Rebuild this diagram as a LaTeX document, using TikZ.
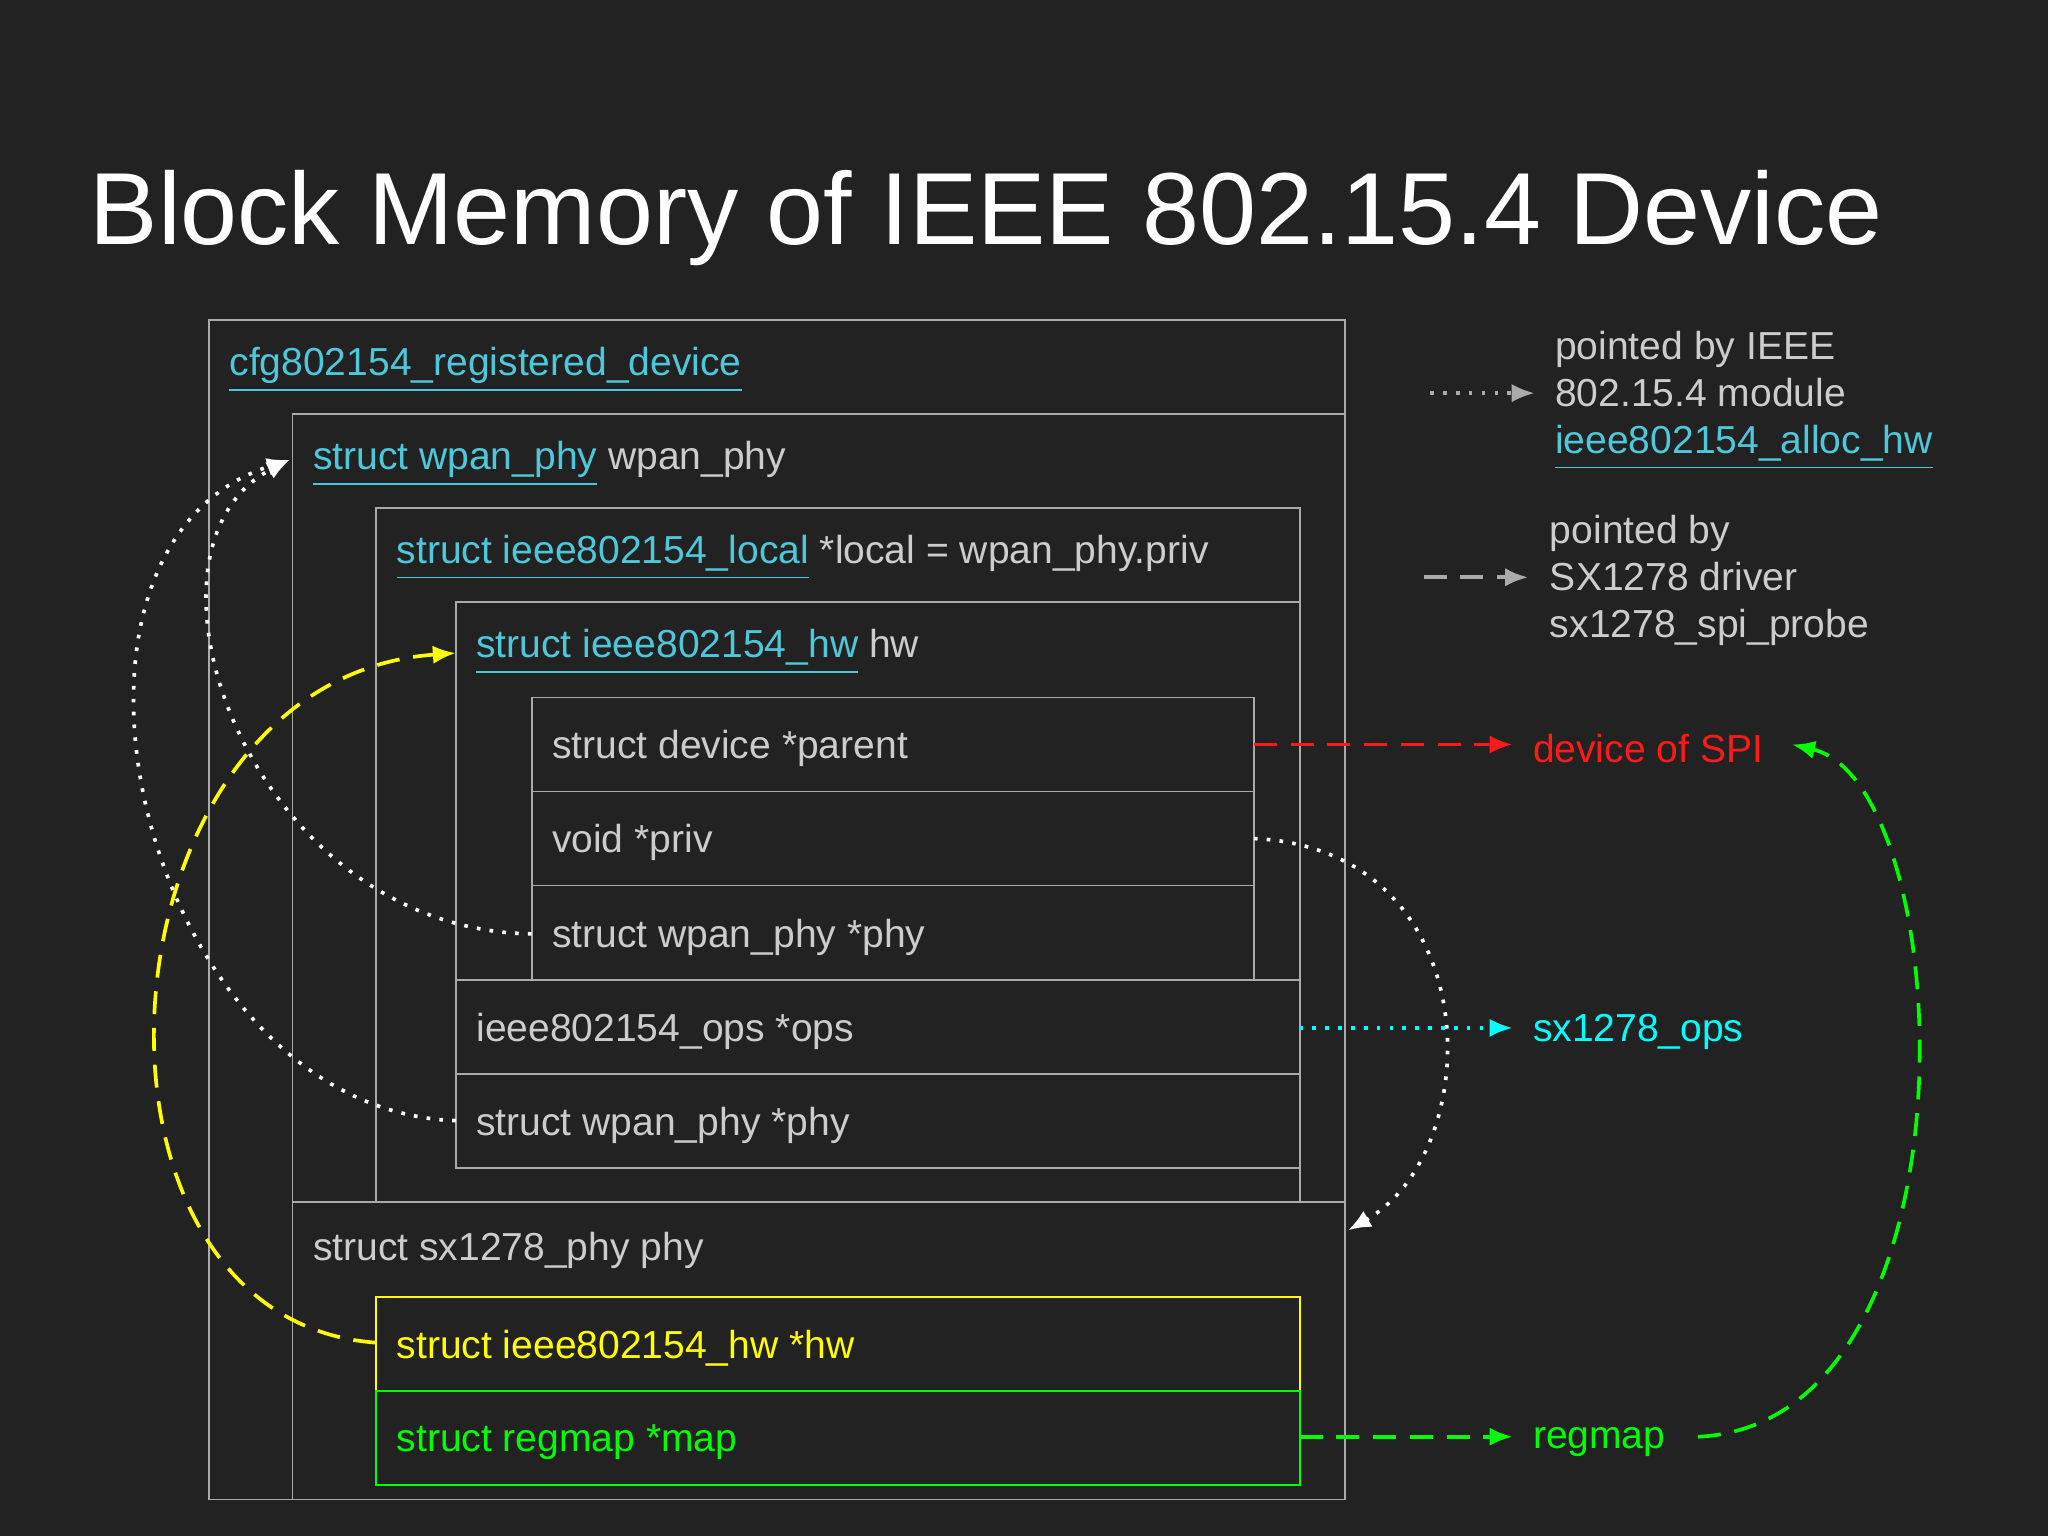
\documentclass[tikz,border=0pt]{standalone}
\usepackage{fontspec}
\setmainfont{Liberation Sans}
\usetikzlibrary{arrows.meta}
\definecolor{bg}{HTML}{222222}
\definecolor{ln}{HTML}{AAAAAA}
\definecolor{tx}{HTML}{CCCCCC}
\definecolor{lk}{HTML}{4DC8DA}
\definecolor{yl}{HTML}{FFFF00}
\definecolor{gr}{HTML}{00FF00}
\definecolor{rd}{HTML}{FF1A1A}
\definecolor{cy}{HTML}{00FFFF}
\newcommand{\lnk}[1]{\textcolor{lk}{\underline{#1}}}
\begin{document}
\begin{tikzpicture}[x=0.01cm,y=-0.01cm,
  box/.style={draw=ln,line width=0.4pt},
  lab/.style={anchor=west,text=tx,font=\fontsize{8.5}{10}\selectfont,inner sep=0pt},
  tip/.style={-{Latex[length=5pt,width=4pt]}},
  dot/.style={white,dotted,line width=0.8pt,tip},
  dsh/.style={dash pattern=on 5pt off 3pt,line width=0.8pt,tip}]
\fill[bg] (0,0) rectangle (1568,1176);
\useasboundingbox (0,0) rectangle (1568,1176);
\node[anchor=west,text=white,font=\fontsize{22.3}{26}\selectfont,inner sep=0pt] (title) at (68,167) {Block Memory of IEEE 802.15.4 Device};
% boxes
\draw[box] (160,245) rectangle (1030,1148);
\draw[box] (224,317) rectangle (1030,1148);
\draw[box] (224,920) -- (1030,920);
\draw[box] (288,389) rectangle (995,920);
\draw[box] (349,461) rectangle (995,894);
\draw[box] (349,750) -- (995,750);
\draw[box] (349,822) -- (995,822);
\draw[box] (407,534) rectangle (960,750);
\draw[box] (407,606) -- (960,606);
\draw[box] (407,678) -- (960,678);
\draw[draw=yl] (288,993) rectangle (995,1065);
\draw[draw=gr] (288,1065) rectangle (995,1137);
% labels
\node[lab] (cfg) at (175,283) {\lnk{cfg802154\_registered\_device}};
\node[lab] (wpan) at (239,355) {\lnk{struct wpan\_phy} wpan\_phy};
\node[lab] (local) at (303,427) {\lnk{struct ieee802154\_local} *local = wpan\_phy.priv};
\node[lab] (hw) at (364,499) {\lnk{struct ieee802154\_hw} hw};
\node[lab] (parent) at (422,573) {struct device *parent};
\node[lab] (priv) at (422,645) {void *priv};
\node[lab] (phy1) at (422,718) {struct wpan\_phy *phy};
\node[lab] (ops) at (364,790) {ieee802154\_ops *ops};
\node[lab] (phy2) at (364,862) {struct wpan\_phy *phy};
\node[lab] (sx) at (239,957) {struct sx1278\_phy phy};
\node[lab,text=yl] (hwp) at (303,1032) {struct ieee802154\_hw *hw};
\node[lab,text=gr] (map) at (303,1104) {struct regmap *map};
% right side labels
\node[lab,text=rd] (spi) at (1173,573) {device of SPI};
\node[lab,text=cy] (sxops) at (1173,790) {sx1278\_ops};
\node[lab,text=gr] (regmap) at (1173,1104) {regmap};
\node[lab,align=left,anchor=north west,font=\fontsize{8.5}{10.2}\selectfont] (leg1) at (1190,253) {pointed by IEEE\\802.15.4 module\\\lnk{ieee802154\_alloc\_hw}};
\node[lab,align=left,anchor=north west,font=\fontsize{8.5}{10.2}\selectfont] (leg2) at (1186,394) {pointed by\\SX1278 driver\\sx1278\_spi\_probe};
% legend arrows
\coordinate (l1a) at (1095,301); \coordinate (l1b) at (1175,301);
\coordinate (l2a) at (1090,442); \coordinate (l2b) at (1170,442);
\draw[ln,dotted,line width=0.8pt,tip] (l1a) -- (l1b);
\draw[ln,dsh] (l2a) -- (l2b);
% connectors
\coordinate (pe) at (960,570); \coordinate (spiw) at (1158,570);
\draw[rd,dsh] (pe) -- (spiw);
\coordinate (oe) at (995,787); \coordinate (sxw) at (1158,787);
\draw[cy,dotted,line width=0.8pt,tip] (oe) -- (sxw);
\coordinate (me) at (995,1100); \coordinate (rgw) at (1158,1100);
\draw[gr,dsh] (me) -- (rgw);
\coordinate (rge) at (1300,1100); \coordinate (spie) at (1372,570);
\draw[gr,dsh] (rge) .. controls (1520,1090) and (1500,600) .. (spie);
\coordinate (pre) at (960,642); \coordinate (sxt) at (1032,942);
\draw[dot] (pre) .. controls (1140,650) and (1140,880) .. (sxt);
\coordinate (p1w) at (407,715); \coordinate (wpw) at (222,352);
\draw[dot] (p1w) .. controls (190,712) and (90,420) .. (wpw);
\coordinate (p2w) at (349,858);
\draw[dot] (p2w) .. controls (110,850) and (10,420) .. (wpw);
\coordinate (hww) at (288,1028); \coordinate (hwl) at (349,500);
\draw[yl,dsh] (hww) .. controls (40,1010) and (70,520) .. (hwl);
\end{tikzpicture}
\end{document}
